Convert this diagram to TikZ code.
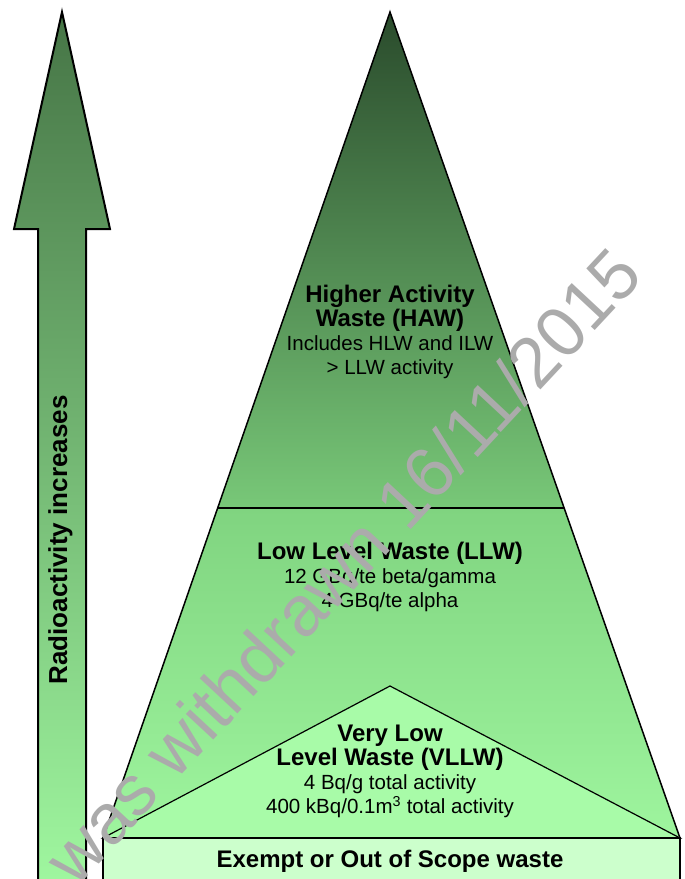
\documentclass[tikz,border=0pt]{standalone}
\usepackage{fontspec}
\setmainfont{Liberation Sans}
\usetikzlibrary{calc}
\definecolor{hawtop}{HTML}{2A4B2C}
\definecolor{hawbot}{HTML}{78C878}
\definecolor{llwtop}{HTML}{80D480}
\definecolor{llwbot}{HTML}{9EF59E}
\definecolor{vllwfill}{HTML}{A8FBA8}
\definecolor{exemptfill}{HTML}{CCFFCC}
\definecolor{arrowtop}{HTML}{467546}
\definecolor{arrowbot}{HTML}{A0F8A0}
\definecolor{wmgray}{HTML}{ABABAB}
\newcommand{\hd}{\fontsize{24}{26}\selectfont\bfseries}
\newcommand{\bd}{\fontsize{20.5}{24}\selectfont}
\begin{document}
\begin{tikzpicture}[x=1pt,y=-1pt,
  edge/.style={draw=black,line width=1.5pt,line join=miter},
  txt/.style={align=center,inner sep=0pt,anchor=north,font=\bd},
  wmark/.style={text=wmgray,inner sep=0pt,font=\fontsize{71}{71}\selectfont}]
  \useasboundingbox (0,0) rectangle (685,879);
  \coordinate (tip) at (62,12);
  \coordinate (apex) at (390,12);
  \coordinate (bl) at (103,838);
  \coordinate (br) at (680,838);
  \coordinate (vapex) at (390,686);
  \coordinate (hl) at ($(apex)!0.6005!(bl)$);
  \coordinate (hr) at ($(apex)!0.6005!(br)$);
  \draw[line width=2pt,top color=arrowtop,bottom color=arrowbot]
    (tip)--(110,229)--(86,229)--(86,890)--(38,890)--(38,229)--(14,229)--cycle;
  \fill[top color=hawtop,bottom color=hawbot] (apex)--(hr)--(hl)--cycle;
  \fill[top color=llwtop,bottom color=llwbot] (hl)--(hr)--(br)--(bl)--cycle;
  \draw[edge] (apex)--(br)--(bl)--cycle;
  \draw[edge,line width=1.2pt] (hl)--(hr);
  \draw[edge,line width=1.2pt,fill=vllwfill] (bl)--(vapex)--(br)--cycle;
  \draw[edge,fill=exemptfill] (bl)--(br)--(680,890)--(103,890)--cycle;
  \node[txt] (haw) at (390,285) {{\hd Higher Activity}\\{\hd Waste (HAW)}\\Includes HLW and ILW\\> LLW activity};
  \node[txt] (llw) at (390,542) {{\hd Low Level Waste (LLW)}\\12 GBq/te beta/gamma\\4 GBq/te alpha};
  \node[txt] (vllw) at (390,725) {{\hd Very Low}\\{\hd Level Waste (VLLW)}\\4 Bq/g total activity\\400 kBq/0.1m\textsuperscript{3} total activity};
  \node[txt,font=\hd] (exempt) at (390,850) {Exempt or Out of Scope waste};
  \node[anchor=base,inner sep=0pt,rotate=90,font=\fontsize{26}{26}\selectfont\bfseries] (radio) at (67,540) {Radioactivity increases};
  \node[wmark,rotate=47,anchor=base east] (wm) at (646,277) {s was withdrawn 16/11/2015};
\end{tikzpicture}
\end{document}
